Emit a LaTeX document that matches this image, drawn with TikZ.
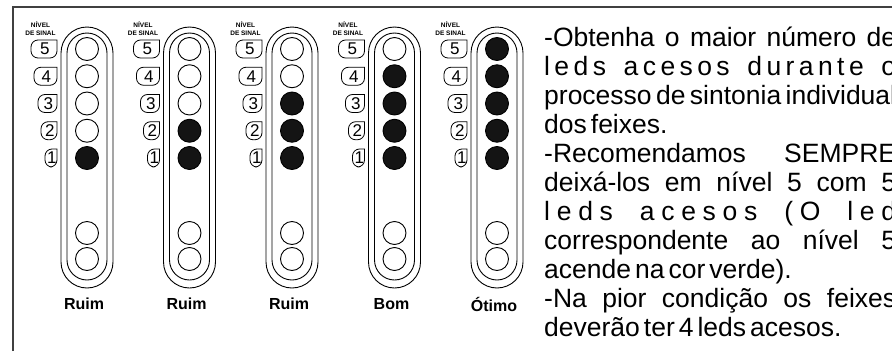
\documentclass[tikz,border=0pt]{standalone}
\usepackage{fontspec}
\setmainfont{Liberation Sans}
\begin{document}
\begin{tikzpicture}[x=1pt,y=-1pt]
\tikzset{
 frame/.style={draw=black!75, line width=1.3pt},
 pill/.style={draw=black, line width=0.9pt},
 led/.style={circle, draw=black, line width=0.9pt, minimum size=23pt, inner sep=0pt},
 ledon/.style={led, fill=black!92},
 lvl/.style={draw=black, line width=0.8pt},
 num/.style={font=\fontsize{17}{17}\selectfont, inner sep=0pt},
 tinylab/.style={font=\bfseries\fontsize{6.5}{7}\selectfont, inner sep=0pt},
 lab/.style={font=\bfseries\fontsize{16}{16}\selectfont, inner sep=0pt},
 txt/.style={anchor=base west, inner sep=0pt, font=\fontsize{26.5}{29}\selectfont},
}
\useasboundingbox (0,0) rectangle (892,351);
\clip (0,0) rectangle (892,351);
\draw[frame] (13,351) -- (13,7) -- (892,7);
\foreach \c/\n/\lab in {0/1/Ruim,1/2/Ruim,2/3/Ruim,3/4/Bom,4/5/Ótimo}{
  \pgfmathsetmacro\cx{87+102.5*\c}
  \draw[pill, rounded corners=26pt] (\cx-26,27) rectangle (\cx+26,288);
  \draw[pill, rounded corners=20pt] (\cx-20,33) rectangle (\cx+20,280);
  \node[tinylab] (c\c-t1) at (\cx-46.5,25) {NÍVEL};
  \node[tinylab] (c\c-t2) at (\cx-46.5,33) {DE SINAL};
  \foreach \i/\bw in {1/26,2/23,3/19,4/16,5/12}{
    \pgfmathsetmacro\y{49+27.25*(\i-1)}
    \pgfmathtruncatemacro\lev{6-\i}
    \ifnum\lev>\n \def\st{led}\else\def\st{ledon}\fi
    \node[\st] (c\c-l\i) at (\cx,\y) {};
    \draw[lvl] (\cx-30,\y-9) [rounded corners=7pt] -- (\cx-30-\bw,\y-9) -- (\cx-30-\bw,\y+9) -- (\cx-30,\y+9) [sharp corners] -- cycle;
    \node[num] (c\c-n\i) at (\cx-30-\bw/2+0.8,\y) {\lev};
  }
  \node[led] (c\c-l6) at (\cx,233) {};
  \node[led] (c\c-l7) at (\cx,259) {};
  \node[lab] (c\c-lab) at (\cx-3,304) {\lab};
}
\def\g{\hfil}
\def\G{\hfil\hfil\hfil\hfil}
\spaceskip=4pt plus 60pt minus 1pt
\node[txt] (t1) at (544,46) {\makebox[352pt][s]{-Obtenha o maior número de}};
\node[txt] (t2) at (544,75) {\hbox to 352pt{l\g e\g d\g s\G a\g c\g e\g s\g o\g s\G d\g u\g r\g a\g n\g t\g e\G o}};
\node[txt] (t3) at (544,104) {\makebox[352pt][s]{processo de sintonia individual}};
\node[txt] (t4) at (544,133) {\spaceskip=4pt dos feixes.};
\node[txt] (t5) at (544,162) {\makebox[352pt][s]{-Recomendamos SEMPRE}};
\node[txt] (t6) at (544,191) {\makebox[352pt][s]{deixá-los em nível 5 com 5}};
\node[txt] (t7) at (544,220) {\hbox to 352pt{l\g e\g d\g s\G a\g c\g e\g s\g o\g s\G (\g O\G l\g e\g d}};
\node[txt] (t8) at (544,249) {\makebox[352pt][s]{correspondente ao nível 5}};
\node[txt] (t9) at (544,278) {\spaceskip=4pt acende na cor verde).};
\node[txt] (t10) at (544,307) {\makebox[352pt][s]{-Na pior condição os feixes}};
\node[txt] (t11) at (544,336) {\spaceskip=4pt deverão ter 4 leds acesos.};
\end{tikzpicture}
\end{document}
